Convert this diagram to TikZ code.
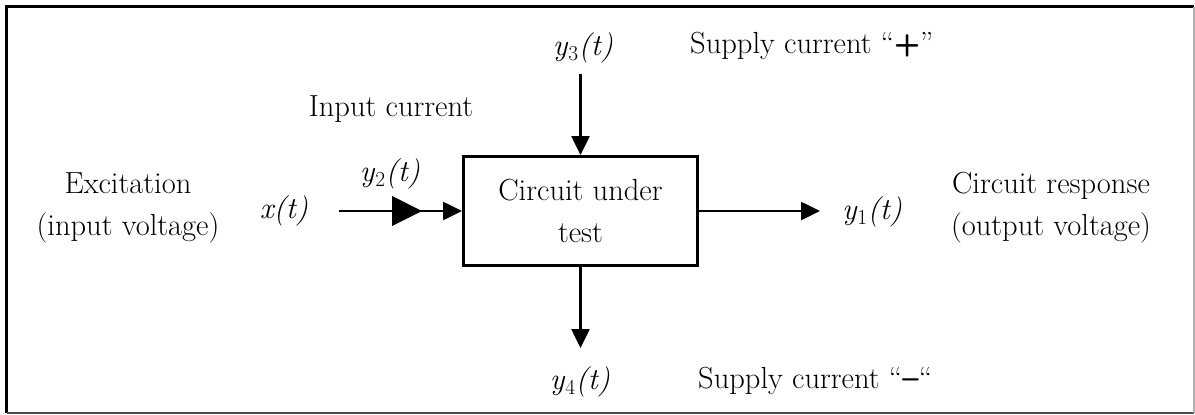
\documentclass[tikz,border=0pt]{standalone}
\usepackage{fontspec}
\usetikzlibrary{arrows.meta}
\tikzset{
  every node/.style={font=\fontsize{30.5}{42}\selectfont, inner sep=0pt},
  lbl/.style={align=center},
  cutbox/.style={draw, line width=3pt, minimum width=234pt, minimum height=109pt, align=center},
  conn/.style={line width=2.6pt, -{Triangle[length=19pt,width=18pt]}},
}
\newcommand{\sig}[1]{\textit{y}\textsubscript{#1}\textit{(t)}}
\begin{document}
\begin{tikzpicture}[x=1pt,y=-1pt]
\useasboundingbox (0,0) rectangle (1195,415);
% frame
\draw[line width=3pt] (6.5,413) -- (6.5,6.5) -- (1194,6.5);
\draw[line width=2pt, black!70] (6.5,413) -- (1194,413);
\draw[line width=1.5pt, black!30] (1194,6.5) -- (1194,413);
% block
\node[cutbox] (cut) at (580.5,211) {Circuit under\\test};
% connector ends
\coordinate (xin) at (339,211);
\coordinate (yout) at (820,211);
\coordinate (ytop) at (580.5,74);
\coordinate (ybot) at (580.5,348);
\draw[conn] (xin) -- (cut.west);
\fill (392,196) -- (422,211) -- (392,226) -- cycle;
\draw[conn] (cut.east) -- (yout);
\draw[conn] (ytop) -- (cut.north);
\draw[conn] (cut.south) -- (ybot);
% labels
\node[lbl] (exc) at (128,208) {Excitation\\(input voltage)};
\node[lbl] (resp) at (1051,208) {Circuit response\\(output voltage)};
\node[anchor=base] (xt) at (284,218) {\textit{x(t)}};
\node[anchor=base] (y2) at (390,181) {\sig{2}};
\node[anchor=base] (inc) at (391,116) {Input current};
\node[anchor=base] (y3) at (583,55) {\sig{3}};
\node[anchor=base west] (splus) at (690,53) {Supply current ``\textsf{\textbf{+}}''};
\node[anchor=base] (y1) at (872,219) {\sig{1}};
\node[anchor=base] (y4) at (580,389) {\sig{4}};
\node[anchor=base west] (sminus) at (698,388) {Supply current ``\textsf{\textbf{--}}``};
\end{tikzpicture}
\end{document}
